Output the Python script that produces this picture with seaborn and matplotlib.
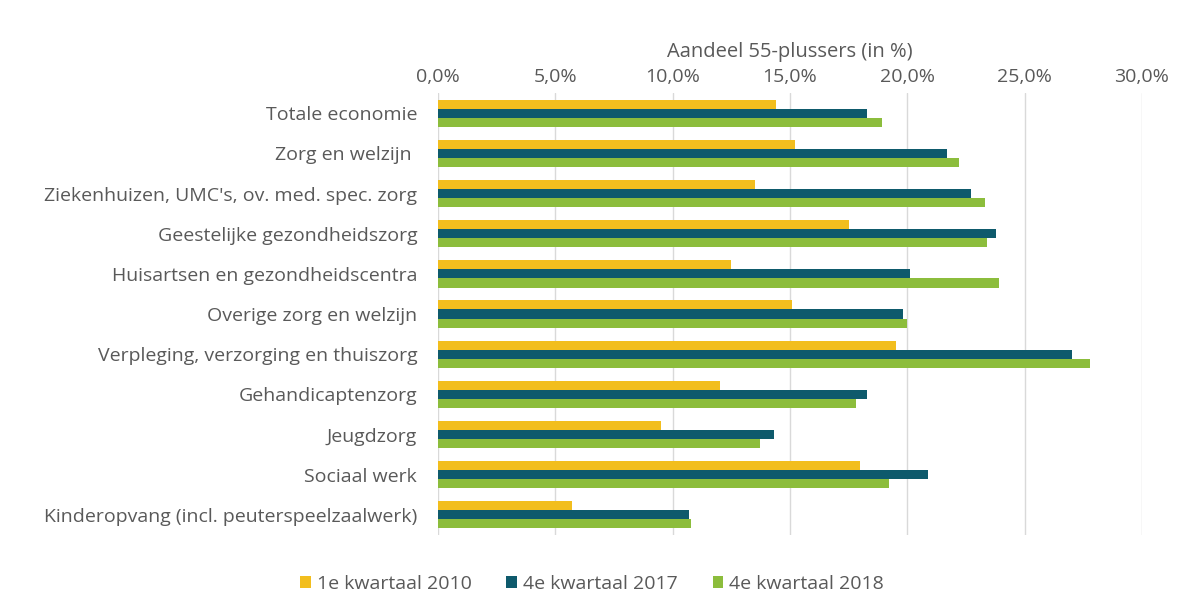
import matplotlib
matplotlib.use("Agg")
import matplotlib.pyplot as plt
import seaborn as sns
import pandas as pd
from matplotlib.ticker import FuncFormatter, MultipleLocator

categories = [
    "Totale economie",
    "Zorg en welzijn ",
    "Ziekenhuizen, UMC's, ov. med. spec. zorg",
    "Geestelijke gezondheidszorg",
    "Huisartsen en gezondheidscentra",
    "Overige zorg en welzijn",
    "Verpleging, verzorging en thuiszorg",
    "Gehandicaptenzorg",
    "Jeugdzorg",
    "Sociaal werk",
    "Kinderopvang (incl. peuterspeelzaalwerk)",
]
series = ["1e kwartaal 2010", "4e kwartaal 2017", "4e kwartaal 2018"]
v2010 = [14.4, 15.2, 13.5, 17.5, 12.5, 15.1, 19.5, 12.0, 9.5, 18.0, 5.7]
v2017 = [18.3, 21.7, 22.7, 23.8, 20.1, 19.8, 27.0, 18.3, 14.3, 20.9, 10.7]
v2018 = [18.9, 22.2, 23.3, 23.4, 23.9, 20.0, 27.8, 17.8, 13.7, 19.2, 10.8]
colors = ["#F2BE1E", "#0E5A6C", "#8CBD3C"]

rows = []
for s, vals in zip(series, [v2010, v2017, v2018]):
    for c, v in zip(categories, vals):
        rows.append({"cat": c, "serie": s, "val": v})
df = pd.DataFrame(rows)

sns.set_style("white")
plt.rcParams["font.family"] = ["Open Sans", "DejaVu Sans"]
text_col = "#595959"
fs = 14

fig = plt.figure(figsize=(11.84, 5.97), dpi=100)
ax = fig.add_axes([0.37, 0.104, 0.5945, 0.74])
sns.barplot(data=df, y="cat", x="val", hue="serie", order=categories,
            hue_order=series, palette=colors, orient="h", width=0.68,
            saturation=1, linewidth=0, ax=ax, legend=True)

ax.set_xlim(0, 30)
ax.set_ylim(10.5, -0.5)
ax.xaxis.set_major_locator(MultipleLocator(5))
ax.xaxis.set_major_formatter(FuncFormatter(lambda x, p: f"{x:.1f}".replace(".", ",") + "%"))
ax.xaxis.tick_top()
ax.xaxis.set_label_position("top")
ax.set_xlabel("Aandeel 55-plussers (in %)", color=text_col, fontsize=fs + 0.5, labelpad=8)
ax.set_ylabel("")
ax.tick_params(axis="x", length=0, labelsize=fs, labelcolor=text_col, pad=5)
ax.tick_params(axis="y", length=0, labelsize=fs, labelcolor=text_col, pad=15)
ax.grid(axis="x", color="#D9D9D9", linewidth=1)
ax.set_axisbelow(True)
for sp in ax.spines.values():
    sp.set_visible(False)

handles, labels = ax.get_legend_handles_labels()
ax.get_legend().remove()
leg = fig.legend(handles, labels, loc="lower center", bbox_to_anchor=(0.5, -0.022),
                 ncol=3, frameon=False, fontsize=fs, handlelength=0.55,
                 handleheight=0.55, handletextpad=0.3, columnspacing=1.8)
for t in leg.get_texts():
    t.set_color(text_col)

fig.savefig("out.png", dpi=100)
